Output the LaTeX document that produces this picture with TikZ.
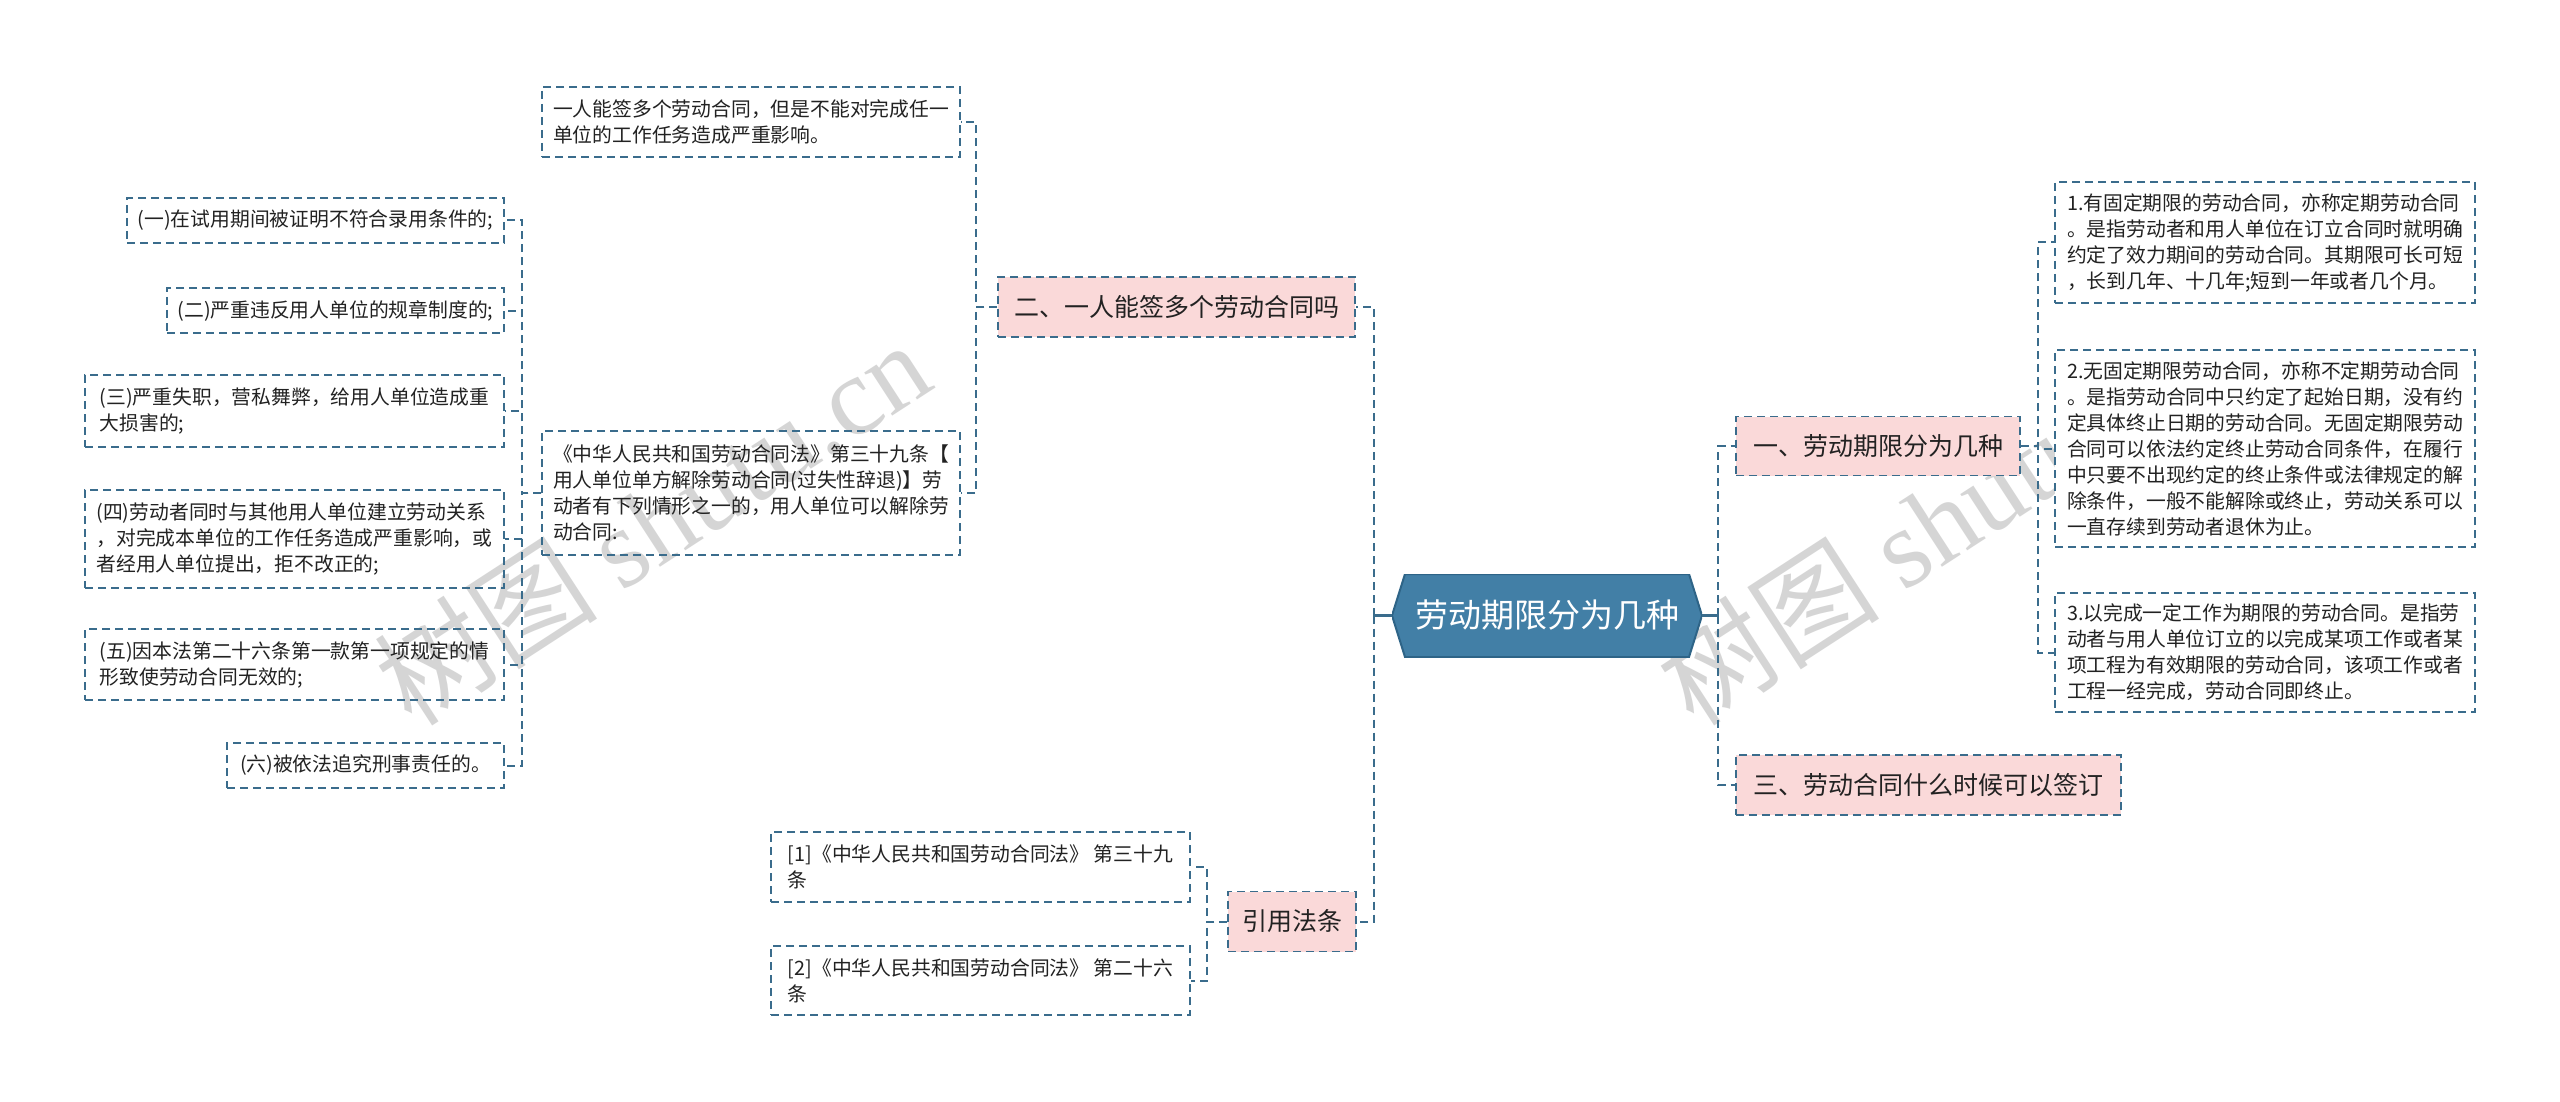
\documentclass[tikz,border=0pt]{standalone}
\usepackage{fontspec}
\setmainfont{Noto Sans CJK SC}
\newfontfamily\wmlatin{Liberation Serif}
\definecolor{lineblue}{RGB}{58,108,140}
\definecolor{pinkfill}{RGB}{250,217,217}
\definecolor{rootfill}{RGB}{66,127,166}
\definecolor{rootedge}{RGB}{46,100,135}
\definecolor{txt}{RGB}{34,34,34}
\definecolor{wm}{RGB}{200,200,200}
\begin{document}
\begin{tikzpicture}[x=1pt,y=-1pt,
  conn/.style={draw=lineblue, line width=2pt, dash pattern=on 8pt off 5pt},
  rootline/.style={draw=lineblue, line width=3pt},
  leafbox/.style={draw=lineblue, line width=1.6pt, dash pattern=on 8pt off 5pt,
    text=txt, align=left, inner sep=0pt, font=\fontsize{19.8}{26}\selectfont},
  branchbox/.style={draw=lineblue, fill=pinkfill, line width=1.6pt, dash pattern=on 8pt off 5pt,
    text=txt, inner sep=0pt, font=\fontsize{25}{30}\selectfont, minimum height=60pt},
  wmark/.style={text=wm, opacity=0.75, rotate=33, inner sep=0pt, font=\fontsize{112}{112}\selectfont},
]
\useasboundingbox (0,0) rectangle (2560,1102);
\fill[white] (0,0) rectangle (2560,1102);

% watermarks
\node[wmark] (wm1) at (652,522) {树图 {\wmlatin shutu.cn}};
\node[wmark] (wm2) at (1934,522) {树图 {\wmlatin shutu.cn}};

% root
\node[minimum width=310pt, minimum height=83pt, inner sep=0pt, text=white,
  font=\fontsize{33}{40}\selectfont,
  path picture={\filldraw[fill=rootfill, draw=rootedge, line width=2pt]
    (path picture bounding box.west)
    -- ([xshift=13pt]path picture bounding box.north west)
    -- ([xshift=-13pt]path picture bounding box.north east)
    -- (path picture bounding box.east)
    -- ([xshift=-13pt]path picture bounding box.south east)
    -- ([xshift=13pt]path picture bounding box.south west) -- cycle;}]
  (root) at (1547,615.5) {劳动期限分为几种};

% branches
\node[branchbox, minimum width=357pt] (b2) at (1176.5,307) {二、一人能签多个劳动合同吗};
\node[branchbox, minimum width=128pt] (b4) at (1292,921.5) {引用法条};
\node[branchbox, minimum width=284pt, minimum height=59pt] (b1) at (1878,446) {一、劳动期限分为几种};
\node[branchbox, minimum width=385pt] (b3) at (1928.5,785) {三、劳动合同什么时候可以签订};

% children of b2
\node[leafbox, minimum width=418pt, minimum height=70pt] (A) at (751,122)
  {一人能签多个劳动合同，但是不能对完成任一\\单位的工作任务造成严重影响。};
\node[leafbox, minimum width=418pt, minimum height=124pt] (B) at (751,493)
  {《中华人民共和国劳动合同法》第三十九条【\\用人单位单方解除劳动合同(过失性辞退)】劳\\动者有下列情形之一的，用人单位可以解除劳\\动合同:};

% children of B
\node[leafbox, minimum width=377pt, minimum height=45pt] (c1) at (315.5,220.5)
  {(一)在试用期间被证明不符合录用条件的;};
\node[leafbox, minimum width=337pt, minimum height=45pt] (c2) at (335.5,310.5)
  {(二)严重违反用人单位的规章制度的;};
\node[leafbox, minimum width=419pt, minimum height=72pt] (c3) at (294.5,411)
  {(三)严重失职，营私舞弊，给用人单位造成重\\大损害的;};
\node[leafbox, minimum width=419pt, minimum height=98pt] (c4) at (294.5,539)
  {(四)劳动者同时与其他用人单位建立劳动关系\\，对完成本单位的工作任务造成严重影响，或\\者经用人单位提出，拒不改正的;};
\node[leafbox, minimum width=419pt, minimum height=71pt] (c5) at (294.5,664.5)
  {(五)因本法第二十六条第一款第一项规定的情\\形致使劳动合同无效的;};
\node[leafbox, minimum width=277pt, minimum height=45pt] (c6) at (365.5,765.5)
  {(六)被依法追究刑事责任的。};

% children of b4
\node[leafbox, minimum width=419pt, minimum height=70pt] (r1) at (980.5,867)
  {{[1]}《中华人民共和国劳动合同法》 第三十九\\条};
\node[leafbox, minimum width=419pt, minimum height=69pt] (r2) at (980.5,980.5)
  {{[2]}《中华人民共和国劳动合同法》 第二十六\\条};

% children of b1
\node[leafbox, fill=white, minimum width=420pt, minimum height=121pt] (d1) at (2265,242.5)
  {1.有固定期限的劳动合同，亦称定期劳动合同\\。是指劳动者和用人单位在订立合同时就明确\\约定了效力期间的劳动合同。其期限可长可短\\，长到几年、十几年;短到一年或者几个月。};
\node[leafbox, fill=white, minimum width=420pt, minimum height=197pt] (d2) at (2265,448.5)
  {2.无固定期限劳动合同，亦称不定期劳动合同\\。是指劳动合同中只约定了起始日期，没有约\\定具体终止日期的劳动合同。无固定期限劳动\\合同可以依法约定终止劳动合同条件，在履行\\中只要不出现约定的终止条件或法律规定的解\\除条件，一般不能解除或终止，劳动关系可以\\一直存续到劳动者退休为止。};
\node[leafbox, fill=white, minimum width=420pt, minimum height=119pt] (d3) at (2265,652.5)
  {3.以完成一定工作为期限的劳动合同。是指劳\\动者与用人单位订立的以完成某项工作或者某\\项工程为有效期限的劳动合同，该项工作或者\\工程一经完成，劳动合同即终止。};

% connectors
\coordinate (lt) at (1374,615.5);
\coordinate (rt) at (1718,615.5);
\draw[rootline] (root.west) -- (lt);
\draw[rootline] (root.east) -- (rt);
\draw[conn] (lt) |- (b2.east);
\draw[conn] (lt) |- (b4.east);
\draw[conn] (rt) |- (b1.west);
\draw[conn] (rt) |- (b3.west);

\draw[conn] (b2.west) -- ++(-21,0) |- (A.east);
\draw[conn] (b2.west) -- ++(-21,0) |- (B.east);

\draw[conn] (B.west) -- ++(-19,0) |- (c1.east);
\draw[conn] (B.west) -- ++(-19,0) |- (c2.east);
\draw[conn] (B.west) -- ++(-19,0) |- (c3.east);
\draw[conn] (B.west) -- ++(-19,0) |- (c4.east);
\draw[conn] (B.west) -- ++(-19,0) |- (c5.east);
\draw[conn] (B.west) -- ++(-19,0) |- (c6.east);

\draw[conn] (b4.west) -- ++(-20,0) |- (r1.east);
\draw[conn] (b4.west) -- ++(-20,0) |- (r2.east);

\draw[conn] (b1.east) -- ++(17,0) |- (d1.west);
\draw[conn] (b1.east) -- ++(17,0) |- (d2.west);
\draw[conn] (b1.east) -- ++(17,0) |- (d3.west);
\end{tikzpicture}
\end{document}
